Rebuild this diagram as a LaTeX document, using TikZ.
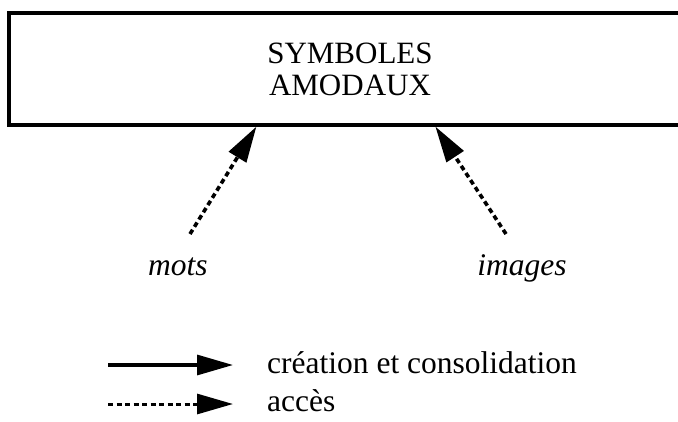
\documentclass[tikz,border=0pt]{standalone}
\usepackage{fontspec}
\setmainfont{Liberation Serif}
\usetikzlibrary{arrows.meta}
\begin{document}
\begin{tikzpicture}[x=1pt,y=-1pt,
  txt/.style={inner sep=0pt,font=\fontsize{31.5}{31.5}\selectfont},
  boxst/.style={draw,line width=3.2pt,inner sep=0pt,align=center,font=\fontsize{31}{31}\selectfont},
  solidarr/.style={line width=3.2pt,-{Triangle[length=36pt,width=20pt]}},
  dasharr/.style={line width=3.6pt,dash pattern=on 5pt off 3.5pt,-{Triangle[length=36pt,width=20pt]}}]
\clip (0,0) rectangle (678,421);
\node[boxst,minimum width=682pt,minimum height=112pt] (sym) at (350,69) {SYMBOLES\\[1pt]AMODAUX};
\coordinate (mt) at ([xshift=249pt]sym.south west);
\coordinate (it) at ([xshift=428pt]sym.south west);
\coordinate (ma) at (190,234);
\coordinate (ia) at (506,234);
\node[txt,anchor=base] (mots) at (178,275) {\itshape mots};
\node[txt,anchor=base] (images) at (522,275) {\itshape images};
\draw[dasharr] (ma) -- (mt);
\draw[dasharr] (ia) -- (it);
\coordinate (l1a) at (108,365);
\coordinate (l1b) at (233,365);
\coordinate (l2a) at (108,404);
\coordinate (l2b) at (233,404);
\draw[solidarr] (l1a) -- (l1b);
\draw[dasharr,line width=3pt] (l2a) -- (l2b);
\node[txt,anchor=base west] (crea) at (267,373) {création et consolidation};
\node[txt,anchor=base west] (acces) at (267,411) {accès};
\end{tikzpicture}
\end{document}
